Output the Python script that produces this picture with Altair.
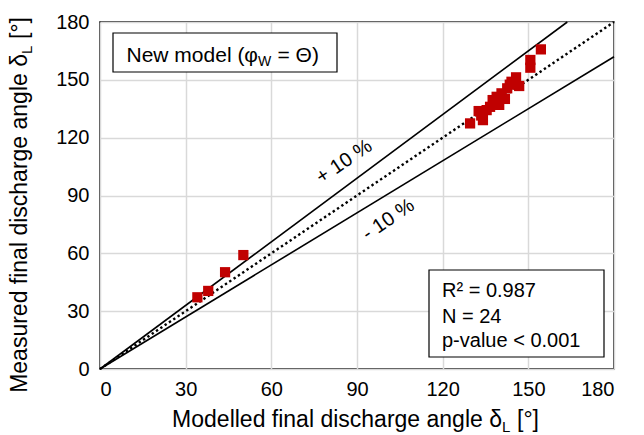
import altair as alt
import pandas as pd

# Modelled vs measured final discharge angle (degrees)
modelled = [34.1, 37.9, 43.8, 50.2,
            129.6, 132.6, 133.5, 134.1, 135.4, 136.6, 137.5, 138.3, 138.9, 139.8,
            140.6, 141.8, 142.6, 143.5, 144.1, 145.7, 146.8, 150.7, 150.7, 154.4]
measured = [37.2, 40.5, 50.2, 59.1,
            127.4, 133.8, 131.5, 129.1, 134.3, 136.0, 139.5, 137.8, 141.2, 137.0,
            143.0, 140.1, 145.6, 147.5, 149.0, 151.3, 146.8, 156.3, 160.3, 165.8]

# Reference lines y = k * x
ref_ratios = [1.1, 1.0, 0.9]
ref_names = ["plus", "equal", "minus"]
axis_ticks = [0, 30, 60, 90, 120, 150, 180]
axis_max = 180

band_labels = ["+ 10 %", "- 10 %"]
band_label_x = [85.5, 101.0]
band_label_y = [107.5, 77.5]

stats_lines = ["R\u00b2 = 0.987", "N = 24", "p-value < 0.001"]
stats_baselines = [274.5, 300.5, 325.0]

FONT = "Liberation Sans"
RED = "#c00000"

pts = pd.DataFrame({"modelled": modelled, "measured": measured})

rows = []
for k, name in zip(ref_ratios, ref_names):
    end_x = min(axis_max, axis_max / k)
    rows.append({"line": name, "x": 0, "y": 0})
    rows.append({"line": name, "x": end_x, "y": end_x * k})
refs = pd.DataFrame(rows)

x_scale = alt.Scale(domain=[0, axis_max], nice=False)
y_scale = alt.Scale(domain=[0, axis_max], nice=False)
x_axis = alt.Axis(values=axis_ticks, title=None, labelPadding=10)
y_axis = alt.Axis(values=axis_ticks, title=None, labelPadding=11)

x_enc = alt.X("x:Q", scale=x_scale, axis=x_axis)
y_enc = alt.Y("y:Q", scale=y_scale, axis=y_axis)

solid = alt.Chart(refs).transform_filter(alt.datum.line != "equal").mark_line(
    color="black", strokeWidth=1.6
).encode(x=x_enc, y=y_enc, detail="line:N")

dotted = alt.Chart(refs).transform_filter(alt.datum.line == "equal").mark_line(
    color="black", strokeWidth=2.4, strokeDash=[2.4, 2.8]
).encode(x=x_enc, y=y_enc)

points = alt.Chart(pts).mark_square(size=105, color=RED, opacity=1).encode(
    x=alt.X("modelled:Q", scale=x_scale, axis=x_axis),
    y=alt.Y("measured:Q", scale=y_scale, axis=y_axis),
)

band_df = pd.DataFrame({"label": band_labels, "x": band_label_x, "y": band_label_y})
band_text = alt.Chart(band_df).mark_text(
    font=FONT, fontSize=20, angle=326, align="center", baseline="middle", color="black"
).encode(x=x_enc, y=y_enc, text="label:N")

one = pd.DataFrame({"k": [0]})


def label(text, x, y, size, align="left", angle=None, dx=0, dy=0):
    kw = dict(font=FONT, fontSize=size, align=align, baseline="alphabetic",
              color="black", dx=dx, dy=dy)
    if angle is not None:
        kw["angle"] = angle
    return alt.Chart(one).mark_text(**kw).encode(
        x=alt.value(x), y=alt.value(y), text=alt.value(text)
    )


def box(x1, x2, y1, y2):
    return alt.Chart(one).mark_rect(fill="white", stroke="black", strokeWidth=1.2).encode(
        x=alt.value(x1), x2=alt.value(x2), y=alt.value(y1), y2=alt.value(y2)
    )


# Box with the model name
model_layers = [
    box(13, 237, 11, 50),
    label("New model (\u03c6", 158, 40, 21, align="right"),
    label("W", 158, 40, 14, dy=4),
    label("= \u0398)", 158, 40, 21, dx=19.5),
]

# Statistics box
stats_layers = [box(329, 504, 248, 335)] + [
    label(t, 342, yb, 20) for t, yb in zip(stats_lines, stats_baselines)
]

# Axis titles with subscript L
TS = 23
title_layers = [
    label("Modelled final discharge angle \u03b4", 402, 405, TS, align="right"),
    label("L", 402, 405, 15, dy=5),
    label("[\u00b0]", 402, 405, TS, dx=15),
    label("Measured final discharge angle \u03b4", -73, 32, TS, align="right", angle=270),
    label("L", -73, 32, 15, angle=270, dy=5),
    label("[\u00b0]", -73, 32, TS, angle=270, dx=15),
]

chart = alt.layer(
    solid, dotted, points, band_text, *model_layers, *stats_layers, *title_layers
).properties(
    width=514, height=347,
    background="white",
    autosize=alt.AutoSizeParams(type="none"),
    padding={"left": 100, "top": 22, "right": 30, "bottom": 66},
).configure_view(
    stroke="black", strokeWidth=1.5
).configure_axis(
    grid=True, gridColor="#d9d9d9", gridWidth=1.5,
    domain=False, ticks=False,
    labelFont=FONT, labelFontSize=20, labelColor="black",
)

chart.save("out.html", embed_options={"renderer": "svg", "actions": False})
